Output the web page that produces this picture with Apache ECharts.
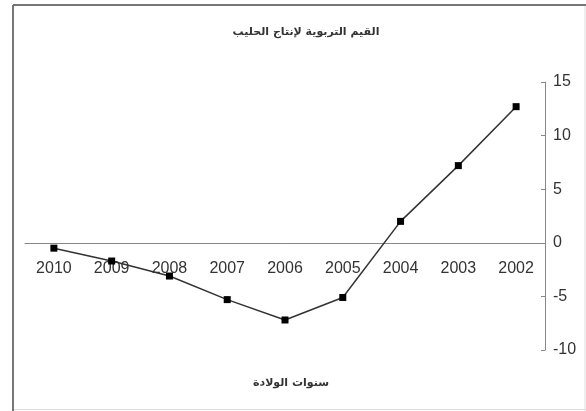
<!DOCTYPE html>
<html>
<head>
<meta charset="utf-8">
<script src="https://cdn.jsdelivr.net/npm/echarts@6/dist/echarts.min.js"></script>
<style>
html,body{margin:0;padding:0;background:#fff;}
#c{width:586px;height:411px;}
</style>
</head>
<body>
<div id="c"></div>
<script>
var years = ['2002','2003','2004','2005','2006','2007','2008','2009','2010'];
var values = [12.7, 7.2, 2.0, -5.1, -7.2, -5.3, -3.1, -1.7, -0.5];
var yTicks = [-10, -5, 0, 5, 10, 15];
var chartTitle = 'القيم التربوية لإنتاج الحليب';
var xTitle = 'سنوات الولادة';

var chart = echarts.init(document.getElementById('c'), null, {renderer:'canvas'});
chart.setOption({
  animation: false,
  backgroundColor: '#fff',
  title: [
    {text: chartTitle, left: 301, top: 22, textAlign: 'center',
     textStyle: {fontFamily: 'DejaVu Sans', fontSize: 11, fontWeight: 'bold', color: '#333'}},
    {text: xTitle, left: 286, top: 373, textAlign: 'center',
     textStyle: {fontFamily: 'DejaVu Sans', fontSize: 11, fontWeight: 'bold', color: '#333'}}
  ],
  graphic: [
    {type: 'line', shape: {x1: 13, y1: 5, x2: 586, y2: 5}, style: {stroke: '#777', lineWidth: 2}},
    {type: 'line', shape: {x1: 13, y1: 5, x2: 13, y2: 411}, style: {stroke: '#777', lineWidth: 2}},
    {type: 'line', shape: {x1: 585, y1: 6, x2: 585, y2: 411}, style: {stroke: '#ddd', lineWidth: 1}},
    {type: 'line', shape: {x1: 14, y1: 409.5, x2: 586, y2: 409.5}, style: {stroke: '#ddd', lineWidth: 1}}
  ],
  grid: {left: 25, right: 41, top: 82, bottom: 61, containLabel: false},
  xAxis: {
    type: 'category',
    data: years,
    inverse: true,
    boundaryGap: true,
    position: 'bottom',
    offset: -107,
    axisLine: {onZero: false, lineStyle: {color: '#888', width: 1}},
    axisTick: {inside: true, length: 4, lineStyle: {color: '#888'}},
    axisLabel: {margin: 18, fontFamily: 'Liberation Sans Narrow, Arial', fontSize: 16, color: '#333'},
    splitLine: {show: false}
  },
  yAxis: {
    type: 'value',
    position: 'right',
    min: -10, max: 15, interval: 5,
    axisLine: {show: true, lineStyle: {color: '#888', width: 1}},
    axisTick: {show: true, inside: true, length: 4, lineStyle: {color: '#888'}},
    axisLabel: {margin: 8, fontFamily: 'Liberation Sans Narrow, Arial', fontSize: 16, color: '#333',
      formatter: function(v){ return yTicks.indexOf(v) >= 0 ? String(v) : ''; }},
    splitLine: {show: false}
  },
  series: [{
    type: 'line',
    data: values,
    symbol: 'rect',
    symbolSize: 7,
    itemStyle: {color: '#000'},
    lineStyle: {color: '#333', width: 1.5}
  }]
});
</script>
</body>
</html>
